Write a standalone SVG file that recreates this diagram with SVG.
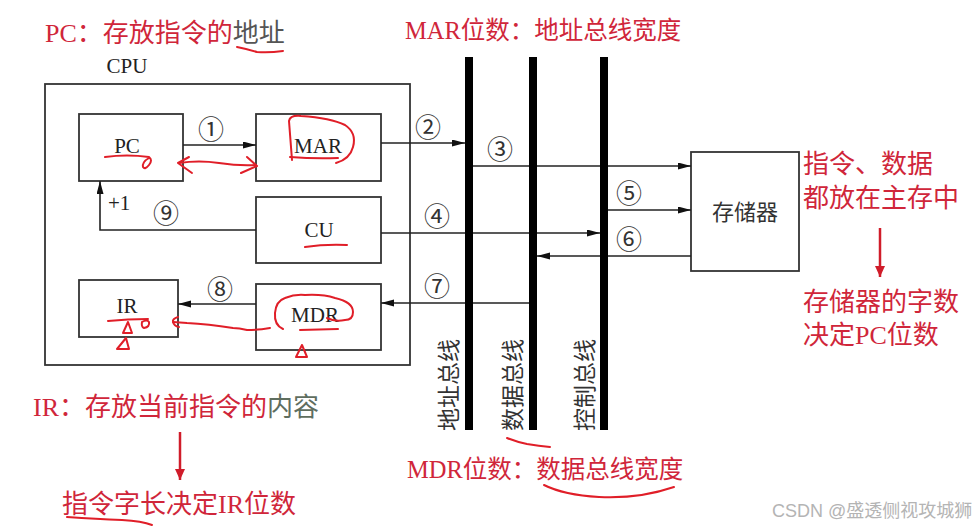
<svg xmlns="http://www.w3.org/2000/svg" width="978" height="529" viewBox="0 0 978 529">
<defs>
<style>
.box{fill:#fff;stroke:#333;stroke-width:1.8}
.bus{fill:#000}
.ln{fill:none;stroke:#222;stroke-width:1.6}
.lbl{font-family:"Liberation Serif","Noto Sans CJK SC",serif;font-size:21px;fill:#222;text-anchor:middle}
.plus{font-family:"Liberation Serif",serif;font-size:21px;fill:#222}
.num{font-family:"Noto Sans CJK SC","DejaVu Sans",sans-serif;font-size:26px;fill:#333;text-anchor:middle}
.cjk{font-family:"Noto Sans CJK SC",sans-serif;fill:#333}
.red{font-family:"Liberation Serif","Noto Sans CJK SC",serif;font-size:26px;fill:#d0263a}
.red25{font-size:24.5px}
.gray{fill:#555}
.hand{fill:none;stroke:#e01e28;stroke-width:2;stroke-linecap:round;stroke-linejoin:round}
.rarrow{stroke:#d01c2a;stroke-width:2.5;fill:none}
.wm{font-family:"Liberation Sans","Noto Sans CJK SC",sans-serif;font-size:18px;fill:#b4b4b4}
</style>
<marker id="ah" markerUnits="userSpaceOnUse" markerWidth="14" markerHeight="8" refX="13" refY="3.5" orient="auto">
<path d="M0,0 L13,3.5 L0,7 z" fill="#111"/>
</marker>
<marker id="rah" markerUnits="userSpaceOnUse" markerWidth="12" markerHeight="16" refX="11" refY="5" orient="auto">
<path d="M0,0 L11,5 L0,10 z" fill="#d01c2a"/>
</marker>
</defs>
<rect width="978" height="529" fill="#fff"/>

<!-- annotations text -->
<text class="red" x="45" y="42">PC：存放指令的<tspan class="gray">地址</tspan></text>
<text class="red red25" x="405" y="39">MAR位数：地址总线宽度</text>
<text class="red" x="33" y="416">IR：存放当前指令的<tspan fill="#5f6e5f">内容</tspan></text>
<text class="red" x="62" y="513">指令字长决定IR位数</text>
<text class="red red25" x="407" y="478">MDR位数：数据总线宽度</text>
<text class="red" x="803" y="173">指令、数据</text>
<text class="red" x="803" y="207">都放在主存中</text>
<text class="red" x="803" y="311">存储器的字数</text>
<text class="red" x="803" y="344">决定PC位数</text>
<line class="rarrow" x1="880" y1="228" x2="880" y2="277" marker-end="url(#rah)"/>
<line class="rarrow" x1="180" y1="432" x2="180" y2="480" marker-end="url(#rah)"/>

<!-- CPU -->
<g id="cpu">
<rect class="box" x="45" y="84" width="365" height="281"/>
<text class="lbl" x="127" y="73">CPU</text>
</g>
<g id="pc"><rect class="box" x="79" y="114" width="104" height="67"/><text class="lbl" x="127" y="153">PC</text></g>
<g id="mar"><rect class="box" x="256" y="114" width="125" height="67"/><text class="lbl" x="318" y="153">MAR</text></g>
<g id="cu"><rect class="box" x="256" y="197" width="125" height="66"/><text class="lbl" x="319" y="237">CU</text></g>
<g id="ir"><rect class="box" x="79" y="280" width="99" height="57"/><text class="lbl" x="127" y="313">IR</text></g>
<g id="mdr"><rect class="box" x="256" y="284" width="125" height="66"/><text class="lbl" x="315" y="322">MDR</text></g>
<g id="mem"><rect class="box" x="691" y="152" width="108" height="119"/><text class="cjk" x="745" y="220" font-size="22" text-anchor="middle">存储器</text></g>

<!-- connectors -->
<g id="connectors">
<line class="ln" x1="183" y1="145" x2="256" y2="145" marker-end="url(#ah)"/>
<line class="ln" x1="381" y1="143" x2="465" y2="143" marker-end="url(#ah)"/>
<line class="ln" x1="473" y1="166" x2="691" y2="166" marker-end="url(#ah)"/>
<line class="ln" x1="381" y1="233" x2="600" y2="233" marker-end="url(#ah)"/>
<line class="ln" x1="608" y1="210" x2="691" y2="210" marker-end="url(#ah)"/>
<line class="ln" x1="691" y1="256" x2="537" y2="256" marker-end="url(#ah)"/>
<line class="ln" x1="529" y1="303" x2="381" y2="303" marker-end="url(#ah)"/>
<line class="ln" x1="256" y1="304" x2="178" y2="304" marker-end="url(#ah)"/>
<polyline class="ln" points="256,230 100,230 100,181" marker-end="url(#ah)"/>
<text class="num" x="211" y="139">①</text>
<text class="num" x="428" y="137">②</text>
<text class="num" x="500" y="159">③</text>
<text class="num" x="437" y="226">④</text>
<text class="num" x="629" y="203">⑤</text>
<text class="num" x="629" y="249">⑥</text>
<text class="num" x="437" y="296">⑦</text>
<text class="num" x="220" y="299">⑧</text>
<text class="num" x="166" y="223">⑨</text>
<text class="plus" x="108" y="210">+1</text>
</g>

<!-- buses -->
<g id="address-bus">
<rect class="bus" x="465" y="57" width="8" height="373"/>
<text class="cjk" font-size="23" text-anchor="middle" transform="translate(457,385) rotate(-90)">地址总线</text>
</g>
<g id="data-bus">
<rect class="bus" x="529" y="57" width="8" height="373"/>
<text class="cjk" font-size="23" text-anchor="middle" transform="translate(521,385) rotate(-90)">数据总线</text>
</g>
<g id="control-bus">
<rect class="bus" x="600" y="57" width="8" height="373"/>
<text class="cjk" font-size="23" text-anchor="middle" transform="translate(593,385) rotate(-90)">控制总线</text>
</g>

<!-- handwritten red marks -->
<g id="handwriting">
<path class="hand" d="M237,47 q10,2 20,5 q12,1 26,-1"/>
<path class="hand" d="M105,157 q22,-3 44,0 q4,3 0,8 q-4,5 -6,2 q-1,-5 6,-9"/>
<path class="hand" d="M179,163 q20,-3 40,0 q20,3 37,2"/>
<path class="hand" d="M189,157 L178,163 L192,173"/>
<path class="hand" d="M247,157 L257,166 L241,173"/>
<path class="hand" d="M292,160 L289,121 q1,-6 12,-5 q30,2 44,9 q12,8 8,22 q-3,12 -17,16"/>
<path class="hand" d="M290,157 q25,2 48,1"/>
<path class="hand" d="M305,247 q20,-3 42,-2"/>
<path class="hand" d="M108,321 q20,-2 40,-2"/>
<path class="hand" d="M128,322 L123,333 L132,333 Z"/>
<path class="hand" d="M142,322 q5,-3 7,0 q1,5 -5,6 q-3,-1 -2,-6"/>
<path class="hand" d="M126,338 L117,349 L129,349 Z"/>
<path class="hand" d="M270,328 q-12,2 -23,2 q-8,-2 -14,-2 q-25,-4 -46,-5 L173,322"/>
<path class="hand" d="M178,317 q-6,2 -5,5 q1,4 6,5"/>
<path class="hand" d="M283,329 q-9,-4 -8,-16 q1,-12 10,-15 q10,-4 20,-3 q18,-1 30,3 q18,4 18,14 q0,8 -8,8 q-10,2 -18,-2"/>
<path class="hand" d="M300,330 L338,329"/>
<path class="hand" d="M302,345 L296,357 L307,357 Z"/>
<path class="hand" d="M507,438 q10,4 20,6 q12,2 23,3"/>
<path class="hand" d="M544,485 q20,10 55,12 q40,2 75,-10"/>
<path class="hand" d="M67,517 q30,2 55,3 q20,1 30,5"/>
</g>

<text class="wm" x="772" y="517">CSDN @盛透侧视攻城狮</text>
</svg>
